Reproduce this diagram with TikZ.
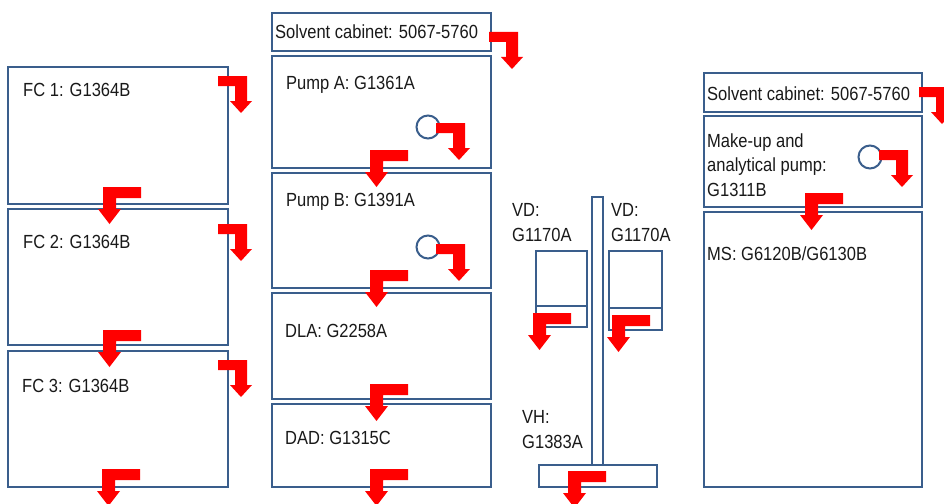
\documentclass[tikz,border=0pt]{standalone}
\usepackage{fontspec}
\setmainfont{Liberation Sans}[FakeStretch=0.87]
\usepackage{xcolor}
\usepackage{tikz}
\usetikzlibrary{calc}
\definecolor{boxblue}{RGB}{58,94,140}
\newcommand{\flowR}[2]{\fill[red] (#1,#2) -- ++(29,0) -- ++(0,25) -- ++(5,0) -- ++(-11,12) -- ++(-11,-12) -- ++(5,0) -- ++(0,-15) -- ++(-17,0) -- cycle;}
\newcommand{\flowL}[2]{\fill[red] (#1,#2) -- ++(38,0) -- ++(0,11) -- ++(-25,0) -- ++(0,11) -- ++(5,0) -- ++(-11.5,15) -- ++(-11.5,-15) -- ++(5,0) -- cycle;}

\begin{document}
\begin{tikzpicture}[x=1pt,y=-1pt,
  unitbox/.style={draw=boxblue,line width=2.6pt},
  lbl/.style={font=\fontsize{19}{24.5}\selectfont,anchor=base west,inner sep=0pt,text=black!90}]
  \clip (0,0) rectangle (944,503);
  \foreach \t/\b in {67/204,209/345,351/487}
    \draw[unitbox] (8,\t) rectangle (228,\b);
  \foreach \t/\b in {13/51,56/168,173/288,293/399,404/487}
    \draw[unitbox] (272,\t) rectangle (491,\b);
  \foreach \t/\b in {73/112,116/207,212/487}
    \draw[unitbox] (704,\t) rectangle (922,\b);
  \draw[unitbox] (539,465) rectangle (657,487);
  \draw[unitbox] (592,197) rectangle (603,465);
  \draw[unitbox,line width=2pt] (536,251) rectangle (587,306) (536,306) rectangle (587,327);
  \draw[unitbox,line width=2pt] (609,251) rectangle (662,308) (609,308) rectangle (662,330);
  \foreach \cx/\cy in {428/127,428/247,870/157}
    \draw[boxblue,line width=2pt] (\cx,\cy) circle (11.5);
  \node[lbl] (fc1) at (23,96) {FC 1: G1364B};
  \node[lbl] (fc2) at (23,248) {FC 2: G1364B};
  \node[lbl] (fc3) at (22,392) {FC 3: G1364B};
  \node[lbl] (solvA) at (275,39) {Solvent cabinet: 5067-5760};
  \node[lbl] (pumpA) at (286,89) {Pump A: G1361A};
  \node[lbl] (pumpB) at (286,206) {Pump B: G1391A};
  \node[lbl] (dla) at (285,337) {DLA: G2258A};
  \node[lbl] (dad) at (285,444) {DAD: G1315C};
  \node[lbl,align=left] (vdL) at (512,241) {VD:\\G1170A};
  \node[lbl,align=left] (vdR) at (611,241) {VD:\\G1170A};
  \node[lbl,align=left] (vh) at (522,448) {VH:\\G1383A};
  \node[lbl] (solvB) at (707,100) {Solvent cabinet: 5067-5760};
  \node[lbl,align=left] (mkup) at (707,196) {Make-up and\\analytical pump:\\G1311B};
  \node[lbl] (ms) at (707,260) {MS: G6120B/G6130B};
  \foreach \x/\y in {218/76,218/224,218/360,489/32,436/123,436/244,919/87,879/150}
    {\flowR{\x}{\y}}
  \foreach \x/\y in {103/187,103/330,102/469,370/150,370/270,370/384,370/469,533/313,612/315,568/471,805/193}
    {\flowL{\x}{\y}}
\end{tikzpicture}
\end{document}
